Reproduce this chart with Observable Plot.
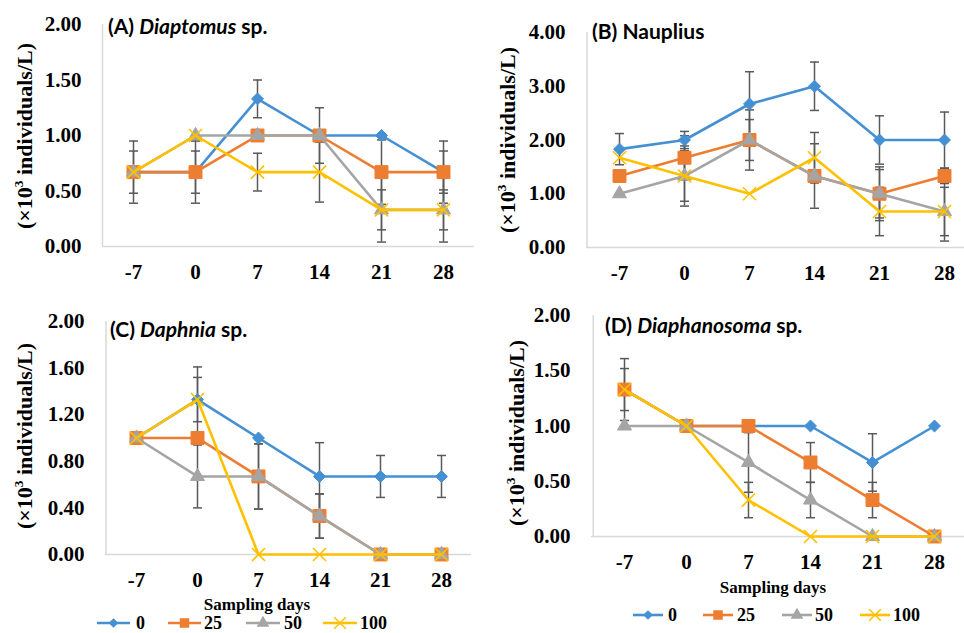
<!DOCTYPE html>
<html><head><meta charset="utf-8">
<script src="https://cdn.jsdelivr.net/npm/d3@7"></script>
<script src="https://cdn.jsdelivr.net/npm/@observablehq/plot@0.6"></script>
<style>
body{margin:0;background:#fff;}
#chart{position:relative;width:964px;height:633px;overflow:hidden;background:#fff;}
#chart svg{position:absolute;}
.ytitle{position:absolute;font:bold 22px "Liberation Serif",serif;white-space:nowrap;transform:translate(-50%,-50%) rotate(-90deg);color:#000;}
.ptitle{position:absolute;font:bold 21px Lato,sans-serif;white-space:nowrap;transform:translateY(-50%);color:#000;}
.xlab{position:absolute;font:bold 17px "Liberation Serif",serif;white-space:nowrap;transform:translate(-50%,-50%);color:#000;}
</style></head><body><div id="chart"></div>
<script>
// ---------- data ----------
const days = ["-7","0","7","14","21","28"];
const series = ["0","25","50","100"];
const colors = ["#4590D3","#ED7D31","#A5A5A5","#FFC000"];
const symbols = ["diamond2","square","triangle","times"];

// (A) Diaptomus sp.
const a0   = [0.67,0.67,1.33,1.00,1.00,0.67];
const a25  = [0.67,0.67,1.00,1.00,0.67,0.67];
const a50  = [0.67,1.00,1.00,1.00,0.33,0.33];
const a100 = [0.67,1.00,0.67,0.67,0.33,0.33];
const aErr0   = [0.28,0.28,0.17,0.25,0.00,0.28];
const aErr25  = [0.19,0.19,0.00,0.00,0.29,0.19];
const aErr50  = [0.00,0.00,0.00,0.00,0.29,0.29];
const aErr100 = [0.00,0.00,0.17,0.27,0.18,0.18];
const aTicks = [0,0.5,1,1.5,2];

// (B) Nauplius
const b0   = [1.83,2.00,2.67,3.00,2.00,2.00];
const b25  = [1.33,1.67,2.00,1.33,1.00,1.33];
const b50  = [1.00,1.33,2.00,1.33,1.00,0.67];
const b100 = [1.67,1.33,1.00,1.67,0.67,0.67];
const bErr0   = [0.29,0.16,0.60,0.45,0.45,0.52];
const bErr25  = [0.00,0.41,0.38,0.60,0.45,0.14];
const bErr50  = [0.00,0.47,0.56,0.00,0.50,0.55];
const bErr100 = [0.00,0.56,0.00,0.47,0.45,0.45];
const bTicks = [0,1,2,3,4];

// (C) Daphnia sp.
const c0   = [1.00,1.33,1.00,0.67,0.67,0.67];
const c25  = [1.00,1.00,0.67,0.33,0.00,0.00];
const c50  = [1.00,0.67,0.67,0.33,0.00,0.00];
const c100 = [1.00,1.33,0.00,0.00,0.00,0.00];
const cErr0   = [0.00,0.28,0.00,0.29,0.18,0.18];
const cErr25  = [0.00,0.00,0.28,0.19,0.00,0.00];
const cErr50  = [0.00,0.27,0.28,0.19,0.00,0.00];
const cErr100 = [0.00,0.19,0.00,0.00,0.00,0.00];
const cTicks = [0,0.4,0.8,1.2,1.6,2.0];

// (D) Diaphanosoma sp.
const d0   = [1.33,1.00,1.00,1.00,0.67,1.00];
const d25  = [1.33,1.00,1.00,0.67,0.33,0.00];
const d50  = [1.00,1.00,0.67,0.33,0.00,0.00];
const d100 = [1.33,1.00,0.33,0.00,0.00,0.00];
const dErr0   = [0.00,0.00,0.00,0.00,0.26,0.00];
const dErr25  = [0.28,0.00,0.00,0.18,0.16,0.00];
const dErr50  = [0.00,0.00,0.27,0.16,0.00,0.00];
const dErr100 = [0.19,0.00,0.16,0.00,0.00,0.00];
const dTicks = [0,0.5,1,1.5,2];

const yTitle = "(×10<sup style='font-size:0.6em;vertical-align:0.7em;line-height:0'>3</sup> individuals/L)";
const xTitle = "Sampling days";

// ---------- layout ----------
const panels = [
  {title:"(A) <i>Diaptomus</i> sp.", vals:[a0,a25,a50,a100], errs:[aErr0,aErr25,aErr50,aErr100], ticks:aTicks,
   left:0, top:0, W:480, H:300, mL:102, mR:6, mT:24, mB:54, tx:108, ty:25, yx:25, yy:136, xl:null},
  {title:"(B) Nauplius", vals:[b0,b25,b50,b100], errs:[bErr0,bErr25,bErr50,bErr100], ticks:bTicks,
   left:480, top:0, W:496, H:300, mL:106, mR:0, mT:32, mB:53, tx:592, ty:30, yx:508, yy:140, xl:null},
  {title:"(C) <i>Daphnia</i> sp.", vals:[c0,c25,c50,c100], errs:[cErr0,cErr25,cErr50,cErr100], ticks:cTicks,
   left:0, top:300, W:480, H:333, mL:105, mR:9, mT:21, mB:79, tx:110, ty:328, yx:25, yy:436, xl:[257,605]},
  {title:"(D) <i>Diaphanosoma</i> sp.", vals:[d0,d25,d50,d100], errs:[dErr0,dErr25,dErr50,dErr100], ticks:dTicks,
   left:480, top:300, W:486, H:333, mL:111, mR:0, mT:15, mB:97, tx:605, ty:324, yx:517, yy:433, xl:[773,588]}
];

const cap = {draw(ctx, size){ const r = Math.sqrt(size/Math.PI); ctx.moveTo(-r,0); ctx.lineTo(r,0); }};
const symR = [5.4, 7.3, 5.2, 6];
const chart = document.getElementById("chart");

for (const p of panels) {
  const rows = [];
  series.forEach((s,i) => days.forEach((d,j) => rows.push({s, i, day:d, v:p.vals[i][j], e:p.errs[i][j]})));
  const withErr = rows.filter(r => r.e > 0);
  const yMax = p.ticks[p.ticks.length-1];
  const step = (p.W - p.mL - p.mR) / days.length;
  const marks = [
    Plot.ruleY([0], {stroke:"#D9D9D9", strokeWidth:1.5}),
    Plot.ruleX([days[0]], {x:d=>d, y1:0, y2:yMax, dx:-step/2, stroke:"#D9D9D9", strokeWidth:1.5}),
    Plot.axisX({tickSize:0, tickPadding:18, label:null, fontSize:21}),
    Plot.axisY({ticks:p.ticks, tickFormat:d3.format(".2f"), tickSize:0, tickPadding:21, label:null, fontSize:21}),
    Plot.ruleX(withErr, {x:"day", y1:r=>r.v-r.e, y2:r=>r.v+r.e, stroke:"#595959", strokeWidth:1.5}),
    Plot.dot(withErr, {x:"day", y:r=>r.v+r.e, symbol:cap, r:4.5, fill:"none", stroke:"#595959", strokeWidth:1.5}),
    Plot.dot(withErr, {x:"day", y:r=>r.v-r.e, symbol:cap, r:4.5, fill:"none", stroke:"#595959", strokeWidth:1.5})
  ];
  series.forEach((s,i) => {
    const sr = rows.filter(r => r.i === i);
    marks.push(Plot.line(sr, {x:"day", y:"v", stroke:colors[i], strokeWidth:2.6}));
    if (symbols[i] === "times")
      marks.push(Plot.dot(sr, {x:"day", y:"v", symbol:"times", r:symR[i], fill:"none", stroke:colors[i], strokeWidth:1.6}));
    else
      marks.push(Plot.dot(sr, {x:"day", y:"v", symbol:symbols[i], r:symR[i], fill:colors[i], stroke:colors[i], strokeWidth:1}));
  });
  const svg = Plot.plot({
    width:p.W, height:p.H,
    marginLeft:p.mL, marginRight:p.mR, marginTop:p.mT, marginBottom:p.mB,
    x:{type:"point", domain:days, padding:0.5},
    y:{domain:[0,yMax]},
    style:{fontFamily:'"Liberation Serif", serif', fontWeight:"bold", fontSize:"21px", color:"#000", background:"transparent", overflow:"visible"},
    marks
  });
  svg.style.left = p.left + "px";
  svg.style.top = p.top + "px";
  chart.appendChild(svg);

  const t = document.createElement("div");
  t.className = "ptitle"; t.innerHTML = p.title;
  t.style.left = p.tx + "px"; t.style.top = p.ty + "px";
  chart.appendChild(t);

  const yt = document.createElement("div");
  yt.className = "ytitle"; yt.innerHTML = yTitle;
  yt.style.left = p.yx + "px"; yt.style.top = p.yy + "px";
  chart.appendChild(yt);

  if (p.xl) {
    const xt = document.createElement("div");
    xt.className = "xlab"; xt.textContent = xTitle;
    xt.style.left = p.xl[0] + "px"; xt.style.top = p.xl[1] + "px";
    chart.appendChild(xt);
  }
}

// ---------- legends ----------
const legends = [
  {y:623, items:[[97,130,136],[168,201,204],[246,280,284],[323,357,360]]},
  {y:615, items:[[633,663,668],[703,733,737],[782,812,815],[860,890,893]]}
];
const lsvg = d3.select(chart).append("svg").attr("width",964).attr("height",633).style("left","0px").style("top","0px");
const legSize = [60, 90, 70, 90];
const d3sym = {diamond2:d3.symbolDiamond2, square:d3.symbolSquare, triangle:d3.symbolTriangle, times:d3.symbolTimes};
for (const L of legends) {
  L.items.forEach(([x1,x2,tx], i) => {
    const g = lsvg.append("g");
    g.append("line").attr("x1",x1).attr("x2",x2).attr("y1",L.y).attr("y2",L.y).attr("stroke",colors[i]).attr("stroke-width",2.6);
    const path = d3.symbol(d3sym[symbols[i]], legSize[i])();
    const s = g.append("path").attr("d",path).attr("transform",`translate(${(x1+x2)/2},${L.y})`);
    if (symbols[i]==="times") s.attr("fill","none").attr("stroke",colors[i]).attr("stroke-width",1.5);
    else s.attr("fill",colors[i]);
    g.append("text").attr("x",tx).attr("y",L.y).attr("dy","0.34em")
      .attr("font-family","Liberation Serif").attr("font-weight","bold").attr("font-size",18).text(series[i]);
  });
}
</script></body></html>
